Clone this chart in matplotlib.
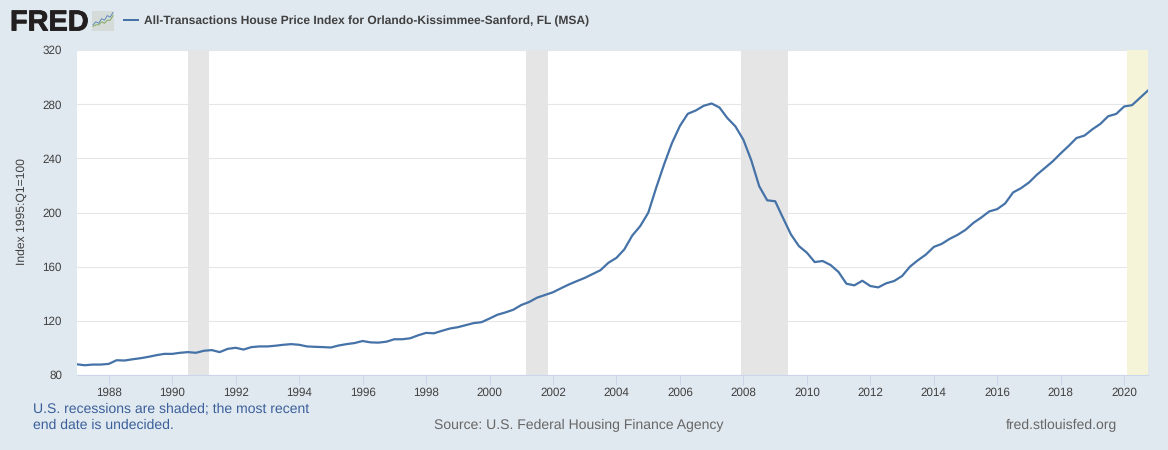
#!/usr/bin/env python
# -*- coding:utf-8 -*-
"""FRED chart: house price index for Orlando-Kissimmee-Sanford"""

import matplotlib
matplotlib.use("Agg")
import pandas as pd
from matplotlib import pyplot as plt
from matplotlib import patheffects
from matplotlib.patches import Rectangle
from matplotlib.transforms import ScaledTranslation

plt.rcParams['text.hinting'] = 'no_hinting'

# quarterly values, 1987Q1 - 2020Q4
hpi = [
    87.9, 87.2, 87.7, 87.7, 88.2, 90.9, 90.7, 91.6, 92.4, 93.4, 94.6, 95.6,
    95.6, 96.4, 96.9, 96.4, 97.9, 98.4, 96.9, 99.3, 100.1, 98.8, 100.6, 101.1,
    101.1, 101.6, 102.3, 102.8, 102.3, 101.1, 100.8, 100.6, 100.3, 101.8, 102.8, 103.6,
    105.1, 104.1, 103.9, 104.6, 106.4, 106.4, 107.1, 109.3, 111.1, 110.8, 112.6, 114.3,
    115.3, 116.8, 118.3, 119.0, 121.7, 124.5, 126.2, 128.2, 131.7, 133.9, 137.1, 139.1,
    141.1, 144.0, 146.8, 149.3, 151.7, 154.5, 157.4, 162.9, 166.5, 172.8, 183.0, 190.0,
    199.8, 218.0, 235.3, 251.3, 264.0, 272.9, 275.3, 278.8, 280.5, 277.5, 269.7, 263.6,
    253.7, 238.5, 219.4, 209.0, 208.3, 196.0, 183.8, 175.2, 170.3, 163.4, 164.2, 161.2,
    156.0, 147.4, 146.2, 149.6, 145.7, 144.7, 147.7, 149.4, 153.1, 160.0, 164.7, 168.9,
    174.6, 176.8, 180.5, 183.5, 187.2, 192.3, 196.3, 200.8, 202.5, 206.7, 214.8, 218.0,
    222.2, 227.9, 232.8, 237.8, 243.7, 249.1, 255.0, 256.8, 261.5, 265.4, 271.1, 272.8,
    278.3, 279.3, 284.7, 290.1,
]
dates = pd.date_range("1987-01-01", periods=len(hpi), freq="QS")

rec_start = ["1990-07-01", "2001-03-01", "2007-12-01"]
rec_end = ["1991-03-01", "2001-11-01", "2009-06-01"]
last_rec = ["2020-02-01", "2020-10-01"]

y_ticks = [80, 120, 160, 200, 240, 280, 320]
x_years = list(range(1988, 2021, 2))

# little logo chart
logo_blue = [1, 3, 2, 5, 4, 7, 6, 9]
logo_green = [0, 1, 1, 3, 2, 4, 4, 7]

W, H = 1168, 450
BG = "#e1e9f0"
LINE = "#4572a7"
FONT = "Liberation Sans"


def px_text(fig, x, y, s, **kw):
    # x, y in pixels from top left corner
    return fig.text(x / W, 1 - y / H, s, family=FONT, **kw)


def px_axes(fig, x0, y0, x1, y1):
    return fig.add_axes([x0 / W, 1 - y1 / H, (x1 - x0) / W, (y1 - y0) / H])


def main():
    fig = plt.figure(figsize=(W / 100, H / 100), dpi=100, facecolor=BG)
    ax = px_axes(fig, 77, 50, 1148, 375)
    ax.set_facecolor("white")

    for s, e in zip(rec_start, rec_end):
        ax.axvspan(pd.Timestamp(s), pd.Timestamp(e), color="#e5e5e5", lw=0, zorder=2)
    ax.axvspan(pd.Timestamp(last_rec[0]), pd.Timestamp(last_rec[1]), color="#f5f4d9", lw=0, zorder=2)

    ax.plot(dates, hpi, color=LINE, lw=1.6, zorder=3, solid_joinstyle="round")

    ax.set_xlim(dates[0], dates[-1])
    ax.set_ylim(80, 320)
    ax.set_yticks(y_ticks)
    ax.set_xticks([pd.Timestamp(year=y, month=1, day=1) for y in x_years])
    ax.set_xticklabels([str(y) for y in x_years], family=FONT, fontsize=8.4, color="#404040")
    ax.set_yticklabels([str(y) for y in y_ticks], family=FONT, fontsize=8.4, color="#404040", va="center")
    ax.tick_params(axis="x", length=7.2, width=0.7, color="#ccd6eb", pad=1.8)
    ax.tick_params(axis="y", length=0, pad=10.8)
    # y labels sit a pixel below their gridline
    shift = ScaledTranslation(0, -1.2 / 100, fig.dpi_scale_trans)
    for lbl in ax.get_yticklabels():
        lbl.set_transform(lbl.get_transform() + shift)
    ax.grid(axis="y", color="#e6e6e6", lw=0.8, zorder=1)
    ax.set_axisbelow(True)
    for side in ["top", "right", "left"]:
        ax.spines[side].set_visible(False)
    ax.spines["bottom"].set_color("#ccd6eb")
    ax.spines["bottom"].set_linewidth(0.8)

    px_text(fig, 22, 212, "Index 1995:Q1=100", fontsize=8.7, color="#404040",
            rotation=90, ha="center", va="center")

    # header
    fred = px_text(fig, 10, 23, "FRED", fontsize=20.8, fontweight="bold", color="#231f20",
                   va="center", ha="left")
    fred.set_path_effects([patheffects.withStroke(linewidth=0.6, foreground="#231f20")])
    logo = px_axes(fig, 92, 11, 114, 31)
    logo.set_facecolor("#d4dbd8")
    logo.plot(logo_blue, color="#4f81b8", lw=0.6)
    logo.plot(logo_green, color="#79a24c", lw=0.6)
    logo.set_xticks([])
    logo.set_yticks([])
    logo.set_ylim(-3, 10)
    for s in logo.spines.values():
        s.set_visible(False)
    fig.add_artist(Rectangle((123 / W, 1 - 21 / H), 16 / W, 1.6 / H, color=LINE,
                             transform=fig.transFigure, lw=0))
    px_text(fig, 144, 21.5, "All-Transactions House Price Index for Orlando-Kissimmee-Sanford, FL (MSA)",
            fontsize=8.65, fontweight="bold", color="#404040", va="center", ha="left")

    # footer
    px_text(fig, 33, 408.5, "U.S. recessions are shaded; the most recent", fontsize=10.05,
            color="#3a5f9a", va="center", ha="left")
    px_text(fig, 33, 425.5, "end date is undecided.", fontsize=10.05,
            color="#3a5f9a", va="center", ha="left")
    px_text(fig, 434, 425.5, "Source: U.S. Federal Housing Finance Agency", fontsize=10.05,
            color="#666666", va="center", ha="left")
    px_text(fig, 1117, 425.5, "fred.stlouisfed.org", fontsize=10.05,
            color="#666666", va="center", ha="right")

    fig.savefig("out.png", dpi=100, facecolor=BG)


if __name__ == '__main__':
    main()
